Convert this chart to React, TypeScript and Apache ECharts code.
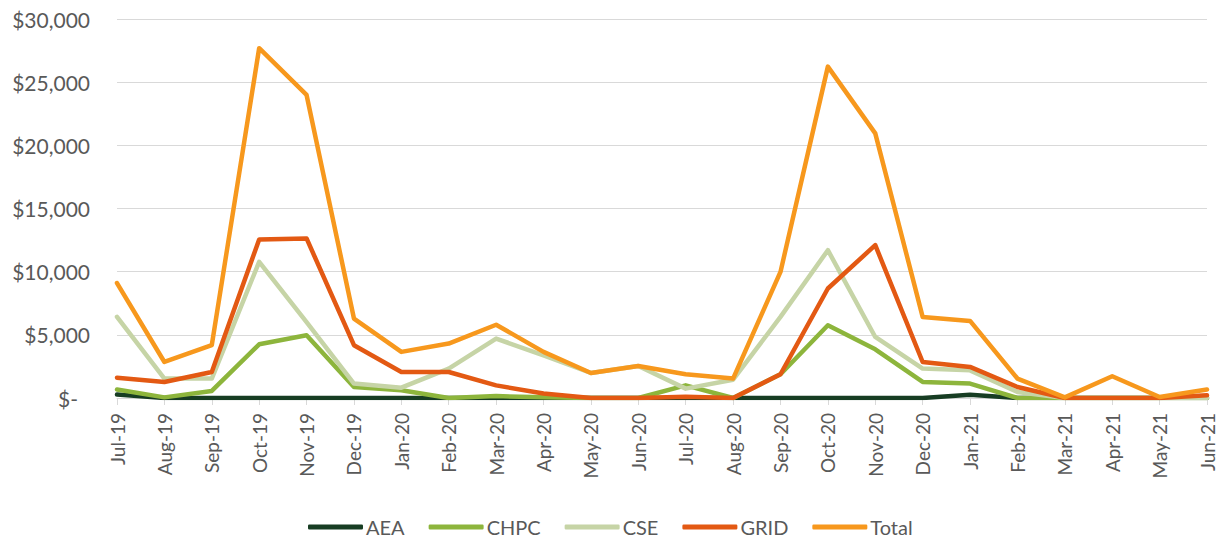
import React, { useEffect, useRef } from "react";
import * as echarts from "echarts";

const months = [
  "Jul-19", "Aug-19", "Sep-19", "Oct-19", "Nov-19", "Dec-19",
  "Jan-20", "Feb-20", "Mar-20", "Apr-20", "May-20", "Jun-20",
  "Jul-20", "Aug-20", "Sep-20", "Oct-20", "Nov-20", "Dec-20",
  "Jan-21", "Feb-21", "Mar-21", "Apr-21", "May-21", "Jun-21",
];

const aea = [270, 0, 0, 0, 0, 0, 0, 0, 0, 0, 0, 0, 0, 0, 0, 0, 0, 0, 250, 0, 0, 0, 0, 0];
const chpc = [670, 50, 560, 4250, 4970, 870, 610, 0, 150, 50, 0, 0, 1000, 0, 1880, 5760, 3850, 1270, 1140, 0, 0, 0, 0, 0];
const cse = [6420, 1540, 1540, 10780, 6000, 1140, 820, 2330, 4700, 3380, 1980, 2540, 740, 1450, 6420, 11700, 4830, 2330, 2190, 475, 0, 0, 0, 0];
const grid = [1610, 1270, 2060, 12550, 12630, 4180, 2060, 2060, 1000, 350, 0, 0, 100, 0, 1880, 8670, 12100, 2850, 2460, 870, 0, 0, 0, 210];
const total = [9100, 2850, 4180, 27690, 23990, 6290, 3650, 4310, 5800, 3650, 1980, 2540, 1880, 1540, 9980, 26230, 20950, 6420, 6100, 1540, 50, 1720, 80, 670];

const seriesNames = ["AEA", "CHPC", "CSE", "GRID", "Total"];
const seriesColors = ["#173d23", "#8db53c", "#c6d4a6", "#e35913", "#f7981d"];
const seriesData = [aea, chpc, cse, grid, total];

const yMax = 30000;
const yInterval = 5000;

export default function App() {
  const ref = useRef<HTMLDivElement>(null);
  useEffect(() => {
    if (!ref.current) return;
    const chart = echarts.init(ref.current, undefined, { renderer: "svg" });
    const font = "Lato, 'Open Sans', sans-serif";
    chart.setOption({
      animation: false,
      backgroundColor: "#ffffff",
      textStyle: { fontFamily: font },
      grid: { left: 117, right: 17, top: 19, bottom: 142, containLabel: false },
      legend: {
        data: seriesNames,
        left: 308,
        top: 517,
        padding: 0,
        icon: "roundRect",
        itemWidth: 55,
        itemHeight: 5,
        itemGap: 24,
        textStyle: { fontFamily: font, fontSize: 20, color: "#595959", padding: [0, 0, 0, -2] },
      },
      xAxis: {
        type: "category",
        data: months,
        boundaryGap: false,
        axisLine: { lineStyle: { color: "#d9d9d9", width: 1 } },
        axisTick: { show: true, alignWithLabel: true, length: 7, lineStyle: { color: "#d9d9d9" } },
        axisLabel: {
          rotate: 90,
          interval: 0,
          margin: 15,
          fontFamily: font,
          fontSize: 19,
          color: "#595959",
        },
        splitLine: { show: false },
      },
      yAxis: {
        type: "value",
        min: 0,
        max: yMax,
        interval: yInterval,
        axisLine: { show: false },
        axisTick: { show: false },
        splitLine: { lineStyle: { color: "#d9d9d9", width: 1 } },
        axisLabel: {
          margin: 27,
          fontFamily: font,
          fontSize: 21,
          color: "#595959",
          formatter: (v: number) =>
            v === 0 ? "{z|$-}" : "$" + v.toLocaleString("en-US"),
          rich: {
            z: { fontFamily: font, fontSize: 21, color: "#595959", padding: [0, 12, 0, 0] },
          },
        },
      },
      series: seriesNames.map((name, i) => ({
        name,
        type: "line",
        data: seriesData[i],
        symbol: "none",
        showSymbol: false,
        color: seriesColors[i],
        lineStyle: { color: seriesColors[i], width: 4.5, cap: "round", join: "round" },
        itemStyle: { color: seriesColors[i] },
        z: 2 + i,
      })),
    });
    return () => chart.dispose();
  }, []);
  return <div ref={ref} style={{ width: 1224, height: 540, position: "absolute", left: 0, top: 0 }} />;
}
